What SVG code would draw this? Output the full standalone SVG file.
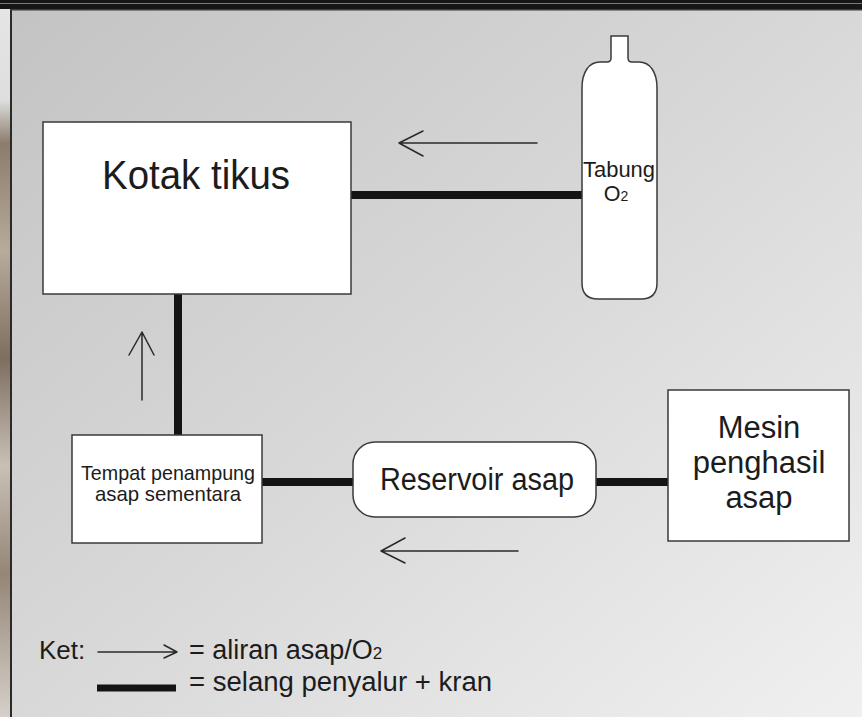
<svg xmlns="http://www.w3.org/2000/svg" width="862" height="717" viewBox="0 0 862 717">
  <defs>
    <linearGradient id="bg" x1="0" y1="0" x2="1" y2="1">
      <stop offset="0" stop-color="#c3c3c3"/>
      <stop offset="0.5" stop-color="#d8d8d8"/>
      <stop offset="1" stop-color="#f0f0f0"/>
    </linearGradient>
    <linearGradient id="strip" x1="0" y1="0" x2="0" y2="1">
      <stop offset="0" stop-color="#e6e6e6"/>
      <stop offset="0.14" stop-color="#dedede"/>
      <stop offset="0.2" stop-color="#8c7c6c"/>
      <stop offset="0.35" stop-color="#b8ab9c"/>
      <stop offset="0.5" stop-color="#7e6e60"/>
      <stop offset="0.65" stop-color="#c9c0b6"/>
      <stop offset="0.8" stop-color="#958676"/>
      <stop offset="1" stop-color="#d6d0ca"/>
    </linearGradient>
    <style>
      .box { fill: #ffffff; stroke: #3a3a3a; stroke-width: 1.5; }
      .pipe { stroke: #141414; stroke-width: 8; fill: none; }
      .flow { stroke: #2a2a2a; stroke-width: 1.5; fill: none; stroke-linecap: round; stroke-linejoin: round; }
      .t { font-family: "Liberation Sans", Arial, Helvetica, sans-serif; fill: #1c1c1c; }
    </style>
  </defs>

  <!-- background and frame -->
  <rect x="0" y="0" width="862" height="717" fill="url(#bg)"/>
  <rect x="0" y="0" width="11" height="717" fill="url(#strip)"/>
  <rect x="10" y="8" width="2" height="709" fill="#2a2a2a"/>
  <rect x="0" y="0" width="862" height="9" fill="#161616"/>
  <rect x="0" y="3" width="862" height="1" fill="#7a7a7a"/>
  <rect x="10" y="9" width="852" height="1.5" fill="#3a3a3a"/>

  <!-- connectors (pipes) -->
  <g id="connectors">
    <line class="pipe" x1="351" y1="195" x2="582" y2="195"/>
    <line class="pipe" x1="178" y1="294" x2="178" y2="435"/>
    <line class="pipe" x1="262" y1="482" x2="353" y2="482"/>
    <line class="pipe" x1="596" y1="482" x2="668" y2="482"/>
  </g>

  <!-- flow arrows -->
  <g id="flow-arrows">
    <path class="flow" d="M537,143 H399 M423,131 L399,143 L423,156"/>
    <path class="flow" d="M142,400 V332 M129,355 L142,332 L154,355"/>
    <path class="flow" d="M518,551 H381 M405,538 L381,551 L405,563"/>
  </g>

  <g id="kotak-tikus">
    <rect class="box" x="43" y="122" width="308" height="172"/>
    <text class="t" x="196" y="189" font-size="41" text-anchor="middle" textLength="188" lengthAdjust="spacingAndGlyphs">Kotak tikus</text>
  </g>

  <g id="tabung-o2">
    <path class="box" d="M611,36 H628 V58 Q628,62 632,62 H639 C650,62 657,72 657,88 V283 Q657,299 641,299 H598 Q582,299 582,283 V88 C582,72 589,62 600,62 H607 Q611,62 611,58 Z"/>
    <text class="t" x="619" y="177" font-size="21.5" text-anchor="middle" textLength="72" lengthAdjust="spacingAndGlyphs">Tabung</text>
    <text class="t" x="616" y="201" font-size="21.5" text-anchor="middle">O<tspan font-size="14">2</tspan></text>
  </g>

  <g id="tempat-penampung">
    <rect class="box" x="72" y="435" width="190" height="108"/>
    <text class="t" x="168" y="480" font-size="21" text-anchor="middle" textLength="174" lengthAdjust="spacingAndGlyphs">Tempat penampung</text>
    <text class="t" x="168" y="501" font-size="21" text-anchor="middle" textLength="146" lengthAdjust="spacingAndGlyphs">asap sementara</text>
  </g>

  <g id="reservoir-asap">
    <rect class="box" x="353" y="442" width="243" height="75" rx="22" ry="22"/>
    <text class="t" x="477" y="490" font-size="31" text-anchor="middle" textLength="194" lengthAdjust="spacingAndGlyphs">Reservoir asap</text>
  </g>

  <g id="mesin-penghasil-asap">
    <rect class="box" x="668" y="390" width="181" height="151"/>
    <text class="t" x="759" y="438" font-size="31" text-anchor="middle">Mesin</text>
    <text class="t" x="759" y="473" font-size="31" text-anchor="middle">penghasil</text>
    <text class="t" x="759" y="508" font-size="31" text-anchor="middle">asap</text>
  </g>

  <g id="legend">
    <text class="t" x="39" y="659" font-size="26">Ket:</text>
    <path class="flow" d="M98,652 H177 M164,645 L177,652 L164,658"/>
    <text class="t" x="189" y="659" font-size="27">= aliran asap/O<tspan font-size="17">2</tspan></text>
    <line x1="97" y1="688" x2="176" y2="688" stroke="#141414" stroke-width="7"/>
    <text class="t" x="189" y="691" font-size="27" textLength="303" lengthAdjust="spacingAndGlyphs">= selang penyalur + kran</text>
  </g>
</svg>
